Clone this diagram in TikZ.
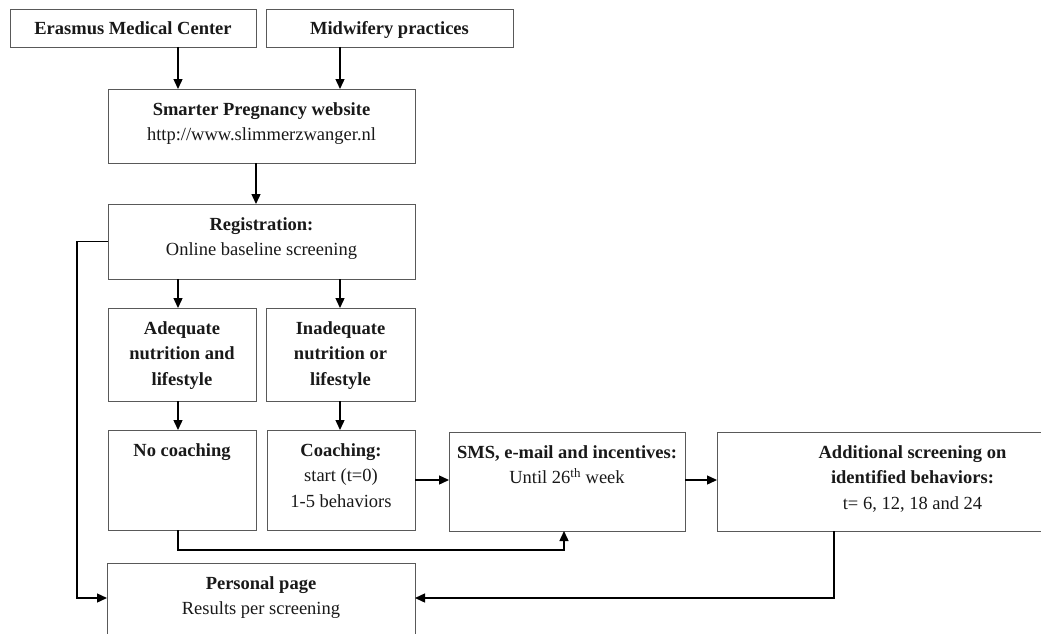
\documentclass[tikz,border=0pt]{standalone}
\usepackage{fontspec}
\setmainfont{Liberation Serif}
\usetikzlibrary{arrows.meta}
\newcommand{\bxt}[3]{\parbox[c][#2][t]{#1}{\centering\rule{0pt}{26pt}#3}}
\begin{document}
\begin{tikzpicture}[x=1pt,y=-1pt,
  every node/.style={font=\fontsize{18.5}{25.5}\selectfont},
  box/.style={draw=black!65, line width=0.9pt, inner sep=0pt, outer sep=0pt, fill=white, text=black!90},
  arr/.style={line width=1.4pt, -{Triangle[length=10pt,width=9pt]}}]
\useasboundingbox (0,0) rectangle (1041,634);
\clip (0,0) rectangle (1041,634);
\fill[white] (0,0) rectangle (1041,634);
% boxes
\node[box] (erasmus) at (133,28) {\bxt{246pt}{38pt}{\textbf{Erasmus Medical Center}}};
\node[box] (midwif) at (389.5,28) {\bxt{247pt}{38pt}{\textbf{Midwifery practices}}};
\node[box] (smarter) at (261.5,126) {\bxt{307pt}{74pt}{\textbf{Smarter Pregnancy website}\\http://www.slimmerzwanger.nl}};
\node[box] (reg) at (261.5,241.5) {\bxt{307pt}{75pt}{\textbf{Registration:}\\Online baseline screening}};
\node[box] (adeq) at (182,354.5) {\bxt{148pt}{93pt}{\textbf{Adequate}\\\textbf{nutrition and}\\\textbf{lifestyle}}};
\node[box] (inadeq) at (340.5,354.5) {\bxt{149pt}{93pt}{\textbf{Inadequate}\\\textbf{nutrition or}\\\textbf{lifestyle}}};
\node[box] (nocoach) at (182,480) {\bxt{148pt}{100pt}{\textbf{No coaching}}};
\node[box] (coach) at (341,480) {\bxt{148pt}{100pt}{\textbf{Coaching:}\\start (t=0)\\1-5 behaviors}};
\node[box] (sms) at (567,481.5) {\bxt{236pt}{99pt}{\textbf{SMS, e-mail and incentives:}\\Until 26\textsuperscript{th} week}};
\node[box] (addl) at (912.5,481.5) {\bxt{391pt}{99pt}{\textbf{Additional screening on}\\\textbf{identified behaviors:}\\t= 6, 12, 18 and 24}};
\node[box] (personal) at (261,603) {\bxt{308pt}{80pt}{\textbf{Personal page}\\Results per screening}};
% helper coordinates
\coordinate (c0) at (256,0);
\coordinate (c1) at (178,0);
\coordinate (c2) at (340,0);
\coordinate (lx) at (77,0);
\coordinate (sx) at (564,0);
\coordinate (ax) at (834,0);
\coordinate (row) at (0,598);
\coordinate (low) at (0,550);
% connectors
\draw[arr] (erasmus.south -| c1) -- (smarter.north -| c1);
\draw[arr] (midwif.south -| c2) -- (smarter.north -| c2);
\draw[arr] (smarter.south -| c0) -- (reg.north -| c0);
\draw[arr] (reg.south -| c1) -- (adeq.north -| c1);
\draw[arr] (reg.south -| c2) -- (inadeq.north -| c2);
\draw[arr] (adeq.south -| c1) -- (nocoach.north -| c1);
\draw[arr] (inadeq.south -| c2) -- (coach.north -| c2);
\draw[arr] (coach.east) -- (sms.west |- coach.east);
\draw[arr] (sms.east |- coach.east) -- (addl.west |- coach.east);
\draw[arr] (reg.west) -- (reg.west -| lx) -- (lx |- row) -- (personal.west |- row);
\draw[arr] (nocoach.south -| c1) -- (c1 |- low) -- (sx |- low) -- (sms.south -| sx);
\draw[arr] (addl.south -| ax) -- (ax |- row) -- (personal.east |- row);
\end{tikzpicture}
\end{document}
